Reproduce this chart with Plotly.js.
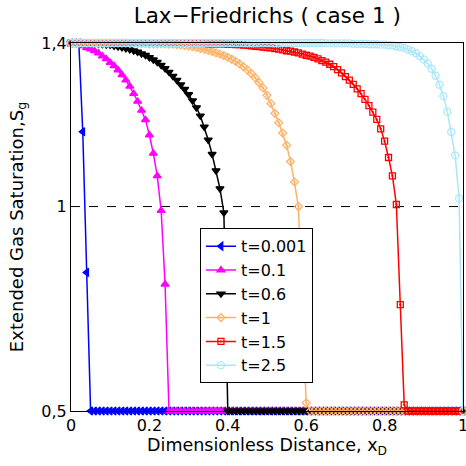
<!DOCTYPE html>
<html>
<head>
<meta charset="utf-8">
<script src="https://cdn.plot.ly/plotly-3.0.1.min.js"></script>
<style>html,body{margin:0;padding:0;background:#fff;}#chart{width:466px;height:466px;}</style>
</head>
<body>
<div id="chart"></div>
<script>
// Grid positions (dimensionless distance)
var xD = [0,0.01,0.02,0.03,0.04,0.05,0.06,0.07,0.08,0.09,
  0.1,0.11,0.12,0.13,0.14,0.15,0.16,0.17,0.18,0.19,
  0.2,0.21,0.22,0.23,0.24,0.25,0.26,0.27,0.28,0.29,
  0.3,0.31,0.32,0.33,0.34,0.35,0.36,0.37,0.38,0.39,
  0.4,0.41,0.42,0.43,0.44,0.45,0.46,0.47,0.48,0.49,
  0.5,0.51,0.52,0.53,0.54,0.55,0.56,0.57,0.58,0.59,
  0.6,0.61,0.62,0.63,0.64,0.65,0.66,0.67,0.68,0.69,
  0.7,0.71,0.72,0.73,0.74,0.75,0.76,0.77,0.78,0.79,
  0.8,0.81,0.82,0.83,0.84,0.85,0.86,0.87,0.88,0.89,
  0.9,0.91,0.92,0.93,0.94,0.95,0.96,0.97,0.98,0.99,
  1];

var sg_t0001 = [1.4,1.4,1.4,1.183,0.839,0.5,0.5,0.5,0.5,0.5,
  0.5,0.5,0.5,0.5,0.5,0.5,0.5,0.5,0.5,0.5,
  0.5,0.5,0.5,0.5,0.5,0.5,0.5,0.5,0.5,0.5,
  0.5,0.5,0.5,0.5,0.5,0.5,0.5,0.5,0.5,0.5,
  0.5,0.5,0.5,0.5,0.5,0.5,0.5,0.5,0.5,0.5,
  0.5,0.5,0.5,0.5,0.5,0.5,0.5,0.5,0.5,0.5,
  0.5,0.5,0.5,0.5,0.5,0.5,0.5,0.5,0.5,0.5,
  0.5,0.5,0.5,0.5,0.5,0.5,0.5,0.5,0.5,0.5,
  0.5,0.5,0.5,0.5,0.5,0.5,0.5,0.5,0.5,0.5,
  0.5,0.5,0.5,0.5,0.5,0.5,0.5,0.5,0.5,0.5,
  0.5];

var sg_t01 = [1.4,1.399,1.396,1.393,1.388,1.385,1.381,1.375,1.368,1.361,
  1.352,1.344,1.334,1.322,1.309,1.294,1.276,1.257,1.235,1.212,
  1.175,1.130,1.075,0.99,0.81,0.5,0.5,0.5,0.5,0.5,
  0.5,0.5,0.5,0.5,0.5,0.5,0.5,0.5,0.5,0.5,
  0.5,0.5,0.5,0.5,0.5,0.5,0.5,0.5,0.5,0.5,
  0.5,0.5,0.5,0.5,0.5,0.5,0.5,0.5,0.5,0.5,
  0.5,0.5,0.5,0.5,0.5,0.5,0.5,0.5,0.5,0.5,
  0.5,0.5,0.5,0.5,0.5,0.5,0.5,0.5,0.5,0.5,
  0.5,0.5,0.5,0.5,0.5,0.5,0.5,0.5,0.5,0.5,
  0.5,0.5,0.5,0.5,0.5,0.5,0.5,0.5,0.5,0.5,
  0.5];

var sg_t06 = [1.4,1.4,1.4,1.4,1.4,1.399,1.399,1.398,1.397,1.396,
  1.395,1.393,1.391,1.389,1.387,1.384,1.381,1.378,1.374,1.370,
  1.365,1.359,1.353,1.346,1.338,1.329,1.319,1.309,1.298,1.287,
  1.274,1.259,1.242,1.222,1.195,1.163,1.128,1.088,1.044,0.985,
  0.5,0.5,0.5,0.5,0.5,0.5,0.5,0.5,0.5,0.5,
  0.5,0.5,0.5,0.5,0.5,0.5,0.5,0.5,0.5,0.5,
  0.5,0.5,0.5,0.5,0.5,0.5,0.5,0.5,0.5,0.5,
  0.5,0.5,0.5,0.5,0.5,0.5,0.5,0.5,0.5,0.5,
  0.5,0.5,0.5,0.5,0.5,0.5,0.5,0.5,0.5,0.5,
  0.5,0.5,0.5,0.5,0.5,0.5,0.5,0.5,0.5,0.5,
  0.5];

var sg_t1 = [1.4,1.4,1.4,1.4,1.4,1.4,1.4,1.4,1.4,1.4,
  1.4,1.4,1.4,1.4,1.4,1.399,1.399,1.399,1.399,1.399,
  1.398,1.398,1.398,1.398,1.398,1.397,1.397,1.396,1.395,1.394,
  1.393,1.391,1.389,1.387,1.385,1.382,1.379,1.376,1.373,1.369,
  1.365,1.360,1.355,1.349,1.342,1.334,1.325,1.315,1.303,1.290,
  1.272,1.252,1.228,1.205,1.180,1.150,1.110,1.060,1.0,0.76,
  0.52,0.5,0.5,0.5,0.5,0.5,0.5,0.5,0.5,0.5,
  0.5,0.5,0.5,0.5,0.5,0.5,0.5,0.5,0.5,0.5,
  0.5,0.5,0.5,0.5,0.5,0.5,0.5,0.5,0.5,0.5,
  0.5,0.5,0.5,0.5,0.5,0.5,0.5,0.5,0.5,0.5,
  0.5];

var sg_t15 = [1.4,1.4,1.4,1.4,1.4,1.4,1.4,1.4,1.4,1.4,
  1.4,1.4,1.4,1.4,1.4,1.4,1.4,1.4,1.4,1.4,
  1.4,1.4,1.4,1.4,1.4,1.4,1.4,1.4,1.4,1.4,
  1.399,1.399,1.399,1.399,1.399,1.398,1.398,1.398,1.398,1.398,
  1.397,1.397,1.396,1.396,1.395,1.394,1.393,1.392,1.391,1.390,
  1.389,1.388,1.386,1.385,1.383,1.381,1.380,1.378,1.376,1.373,
  1.370,1.368,1.365,1.361,1.357,1.353,1.348,1.342,1.335,1.327,
  1.318,1.309,1.299,1.288,1.276,1.262,1.247,1.231,1.213,1.190,
  1.160,1.120,1.075,1.005,0.76,0.515,0.5,0.5,0.5,0.5,
  0.5,0.5,0.5,0.5,0.5,0.5,0.5,0.5,0.5,0.5,
  0.5];

var sg_t25 = [1.4,1.4,1.4,1.4,1.4,1.4,1.4,1.4,1.4,1.4,
  1.4,1.4,1.4,1.4,1.4,1.4,1.4,1.4,1.4,1.4,
  1.4,1.4,1.4,1.4,1.4,1.4,1.4,1.4,1.4,1.4,
  1.4,1.4,1.4,1.4,1.4,1.4,1.4,1.4,1.4,1.4,
  1.4,1.4,1.4,1.4,1.4,1.4,1.4,1.4,1.4,1.4,
  1.4,1.4,1.4,1.4,1.4,1.4,1.4,1.4,1.4,1.4,
  1.4,1.4,1.4,1.4,1.4,1.399,1.399,1.399,1.399,1.399,
  1.399,1.399,1.398,1.398,1.398,1.398,1.397,1.397,1.397,1.396,
  1.396,1.395,1.394,1.392,1.390,1.388,1.384,1.380,1.375,1.368,
  1.360,1.350,1.337,1.320,1.298,1.270,1.232,1.182,1.125,1.02,
  0.5];

// Reference line (S_g = 1)
var refX = [0, 1];
var refY = [1, 1];

var seriesNames = ['t=0.001','t=0.1','t=0.6','t=1','t=1.5','t=2.5'];
var seriesData = [sg_t0001, sg_t01, sg_t06, sg_t1, sg_t15, sg_t25];

var xTickVals = [0,0.2,0.4,0.6,0.8,1];
var xTickText = ['0','0.2','0.4','0.6','0.8','1'];
var yTickVals = [0.5,1,1.4];
var yTickText = ['0,5','1','1,4'];

var colors = ['#0000ff','#ff00ff','#000000','#ffb266','#ff0000','#aae6fa'];
var symbols = ['triangle-left','triangle-up','triangle-down','diamond-open-dot','square-open-dot','circle-open'];
var sizes = [7,7,7,6,6,7];

var FONT = 'DejaVu Sans, Arial, sans-serif';

var traces = [{
  x: refX, y: refY, type: 'scatter', mode: 'lines',
  line: {color: '#000', width: 1, dash: 'dash'},
  showlegend: false, hoverinfo: 'skip'
}];
for (var k = 0; k < seriesNames.length; k++) {
  traces.push({
    x: xD, y: seriesData[k], type: 'scatter', mode: 'lines+markers',
    name: seriesNames[k], cliponaxis: false,
    line: {color: colors[k], width: 1.5},
    marker: {symbol: symbols[k], size: sizes[k], color: colors[k], line: {color: colors[k], width: 1.3}}
  });
}

var layout = {
  width: 466, height: 466,
  margin: {l: 71, r: 3, t: 43, b: 55, pad: 0},
  paper_bgcolor: '#fff', plot_bgcolor: '#fff',
  font: {family: FONT, color: '#000', size: 16},
  title: {text: 'Lax\u2212Friedrichs ( case 1 )', font: {family: FONT, size: 21.5, color: '#000'},
          x: 0.5735, xref: 'container', xanchor: 'center', y: 0.983, yref: 'container', yanchor: 'top'},
  xaxis: {range: [0, 1], tickvals: xTickVals, ticktext: xTickText, showgrid: false, zeroline: false,
          showline: true, mirror: true, linecolor: '#000', linewidth: 1, ticks: '',
          ticklabeloverflow: 'allow',
          tickfont: {family: FONT, size: 16},
          title: {text: 'Dimensionless Distance, x<sub>D</sub>', font: {family: FONT, size: 17.5}, standoff: 2}},
  yaxis: {range: [0.5, 1.4], tickvals: yTickVals, ticktext: yTickText, showgrid: false, zeroline: false,
          showline: true, mirror: true, linecolor: '#000', linewidth: 1, ticks: '',
          ticklabeloverflow: 'allow',
          tickfont: {family: FONT, size: 16},
          title: {text: 'Extended Gas Saturation,S<sub>g</sub>', font: {family: FONT, size: 18}, standoff: 13}},
  legend: {x: 0.329, y: 0.4965, xanchor: 'left', yanchor: 'top', bgcolor: '#fff',
           bordercolor: '#000', borderwidth: 1, font: {family: FONT, size: 16}},
  showlegend: true
};

Plotly.newPlot('chart', traces, layout, {displayModeBar: false, staticPlot: true});
</script>
</body>
</html>
